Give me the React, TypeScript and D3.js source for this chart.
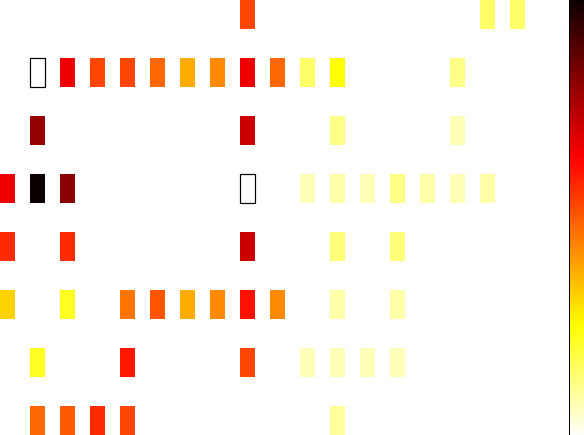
import React from "react";
import * as d3 from "d3";

// Heatmap cells (sparse): row index, column index, value (0-100, higher = darker)
const cellRows = [
  0, 0, 0,
  1, 1, 1, 1, 1, 1, 1, 1, 1, 1, 1,
  2, 2, 2, 2,
  3, 3, 3, 3, 3, 3, 3, 3, 3, 3,
  4, 4, 4, 4, 4,
  5, 5, 5, 5, 5, 5, 5, 5, 5, 5,
  6, 6, 6, 6, 6, 6, 6,
  7, 7, 7, 7, 7,
];
const cellCols = [
  8, 16, 17,
  2, 3, 4, 5, 6, 7, 8, 9, 10, 11, 15,
  1, 8, 11, 15,
  0, 1, 2, 10, 11, 12, 13, 14, 15, 16,
  0, 2, 8, 11, 13,
  0, 2, 4, 5, 6, 7, 8, 9, 11, 13,
  1, 4, 8, 10, 11, 12, 13,
  1, 2, 3, 4, 11,
];
const cellValues = [
  53, 15, 15,
  66, 53, 53, 48, 38, 43, 66, 48, 15, 25, 12,
  79, 71, 12, 7,
  66, 100, 81, 7, 8.5, 7, 12, 8.5, 7, 8.5,
  57, 57, 71, 13.5, 13.5,
  32, 22, 46, 51, 38, 43, 61, 43, 8.5, 8.5,
  22, 60, 53, 7, 7, 7, 7,
  48, 50, 57, 53, 10,
];
// Outlined (reference) cells drawn empty with a black frame
const markedRows = [1, 3];
const markedCols = [1, 8];

const nRows = 8;
const nCols = 18;

// matplotlib "hot" colormap
function hot(s: number): string {
  const t = Math.max(0, Math.min(1, s));
  const r = t < 0.365079 ? 0.0416 + (1 - 0.0416) * (t / 0.365079) : 1;
  const g = t < 0.365079 ? 0 : t < 0.746032 ? (t - 0.365079) / (0.746032 - 0.365079) : 1;
  const b = t < 0.746032 ? 0 : (t - 0.746032) / (1 - 0.746032);
  return d3.rgb(r * 255, g * 255, b * 255).formatHex();
}

export default function App() {
  const W = 584;
  const H = 435;
  const x = d3
    .scaleBand<number>()
    .domain(d3.range(nCols))
    .range([0, 525])
    .paddingInner(0.5)
    .paddingOuter(0);
  const y = d3
    .scaleBand<number>()
    .domain(d3.range(nRows))
    .range([0, 435])
    .paddingInner(0.5)
    .paddingOuter(0);
  const color = d3.scaleSequential((v: number) => hot(1 - v)).domain([0, 100]);

  const cbY = d3.scaleLinear().domain([100, 0]).range([0, 435]);
  // stops ordered top (value 100) to bottom (value 0)
  const stops = d3.range(100, -1, -2);

  return (
    <svg
      width={W}
      height={H}
      style={{ position: "fixed", left: 0, top: 0, background: "#fff" }}
    >
      <defs>
        <linearGradient id="cb" x1="0" y1="0" x2="0" y2="1">
          {stops.map((v) => (
            <stop key={v} offset={`${100 - v}%`} stopColor={color(v)} />
          ))}
        </linearGradient>
      </defs>
      {cellValues.map((v, i) => (
        <rect
          key={i}
          x={x(cellCols[i])}
          y={y(cellRows[i])}
          width={x.bandwidth()}
          height={y.bandwidth()}
          fill={color(v)}
        />
      ))}
      {markedRows.map((r, i) => (
        <rect
          key={`m${i}`}
          x={(x(markedCols[i]) as number) + 0.5}
          y={(y(r) as number) + 0.5}
          width={x.bandwidth()}
          height={y.bandwidth()}
          fill={color(0)}
          stroke="#000"
          strokeWidth={1.2}
        />
      ))}
      <rect
        x={569.5}
        y={cbY(100) - 2}
        width={20}
        height={cbY(0) - cbY(100) + 4}
        fill="url(#cb)"
        stroke="#000"
        strokeWidth={1}
      />
    </svg>
  );
}
